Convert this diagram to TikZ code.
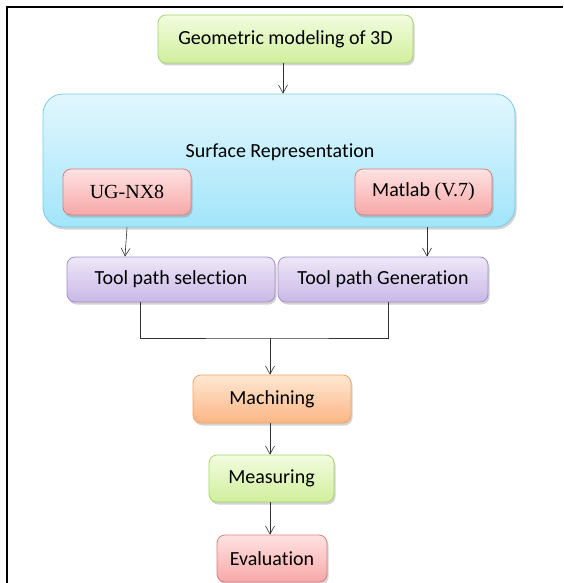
\documentclass[tikz,border=0pt]{standalone}
\usepackage{fontspec}
\setmainfont{Carlito}[Ligatures=NoCommon]
\newfontfamily\serifface{Liberation Serif}
\usetikzlibrary{arrows.meta,shadows,positioning}

\definecolor{geotop}{HTML}{F2FCDF}
\definecolor{geobot}{HTML}{D0EF9C}
\definecolor{geoline}{HTML}{A8D46F}
\definecolor{surftop}{HTML}{E2F7FE}
\definecolor{surfbot}{HTML}{A2E5FA}
\definecolor{surfline}{HTML}{78CBE4}
\definecolor{redtop}{HTML}{FFE2E2}
\definecolor{redbot}{HTML}{F7A8A8}
\definecolor{redline}{HTML}{D97F7F}
\definecolor{tooltop}{HTML}{EEE7F8}
\definecolor{toolbot}{HTML}{C9B8E6}
\definecolor{toolline}{HTML}{A48FCB}
\definecolor{machtop}{HTML}{FFE7D2}
\definecolor{machbot}{HTML}{FBB685}
\definecolor{machline}{HTML}{F2A266}

\tikzset{
  box/.style={draw, rounded corners=8pt, line width=0.8pt, inner sep=0pt,
    font=\fontsize{20}{23}\selectfont, text=black,
    drop shadow={opacity=0.35, shadow xshift=1.5pt, shadow yshift=-2.5pt}},
  greenbox/.style={box, draw=geoline, top color=geotop, bottom color=geobot},
  bluebox/.style={box, draw=surfline, top color=surftop, bottom color=surfbot, rounded corners=20pt},
  redbox/.style={box, draw=redline, top color=redtop, bottom color=redbot},
  purplebox/.style={box, draw=toolline, top color=tooltop, bottom color=toolbot},
  orangebox/.style={box, draw=machline, top color=machtop, bottom color=machbot},
  arr/.style={-{Straight Barb[length=8pt,width=9pt]}, line width=0.6pt, draw=black!80},
  link/.style={line width=0.8pt, draw=black!80}
}

\begin{document}
\begin{tikzpicture}[x=1pt,y=-1pt]
                \useasboundingbox (0,0) rectangle (563,583);
                \draw[line width=1.6pt] (7,583) -- (7,7) -- (563,7);
                \node[greenbox, minimum width=255pt, minimum height=48pt] (geo) at (285.5,39) {Geometric modeling of 3D};
                \node[bluebox, minimum width=472pt, minimum height=133pt] (surf) at (279,160.5) {};
                \node[font=\fontsize{20}{23}\selectfont] (surflabel) at (280,152) {Surface Representation};
                \node[redbox, minimum width=128pt, minimum height=46pt] (ug) at (127,192) {\serifface UG-NX8};
                \node[redbox, minimum width=137pt, minimum height=46pt] (mat) at (423.5,192) {Matlab {\serifface (V.7)}};
                \node[purplebox, minimum width=208pt, minimum height=45pt] (tps) at (171,279.5) {Tool path selection};
                \node[purplebox, minimum width=210pt, minimum height=45pt] (tpg) at (383,279.5) {Tool path Generation};
                \node[orangebox, minimum width=158pt, minimum height=48pt] (mach) at (272,399) {Machining};
                \node[greenbox, minimum width=125pt, minimum height=47pt] (meas) at (271.5,478.5) {Measuring};
                \node[redbox, minimum width=110pt, minimum height=47pt] (eval) at (272,558.5) {Evaluation};
                \coordinate (join) at (270,338);
                %\draw (ug) -- (mat);
                \draw[arr] (geo.south -| 283,0) -- (surf.north -| 283,0);
                \draw[arr] (ug.south |- surf.south) -- ([xshift=-2pt]ug.south |- tps.north);
                \draw[arr] ([xshift=3.5pt]mat.south |- surf.south) -- ([xshift=3.5pt]mat.south |- tpg.north);
                \draw[link] ([xshift=-31pt]tps.south) |- (join) -| ([xshift=5pt]tpg.south);
                \draw[arr] (join) -- (join |- mach.north);
                \draw[arr] ([xshift=-2pt]mach.south) -- ([xshift=-2pt]mach.south |- meas.north);
                \draw[arr] ([xshift=-1.5pt]meas.south) -- ([xshift=-1.5pt]meas.south |- eval.north);
            \end{tikzpicture}
\end{document}
